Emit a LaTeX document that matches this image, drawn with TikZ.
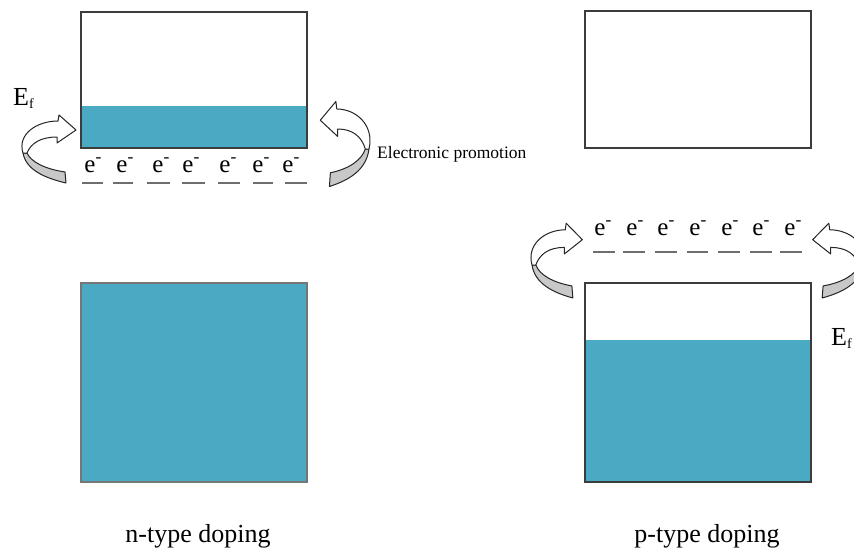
\documentclass[tikz,border=0pt]{standalone}
\usepackage{fontspec}
\setmainfont{Liberation Serif}
\definecolor{bandfill}{HTML}{4AAAC4}
\definecolor{boxline}{HTML}{3C3C3C}
\definecolor{dashgray}{HTML}{6E6E6E}
\definecolor{ribbon}{HTML}{C8C8C8}
\tikzset{
  boxedge/.style={draw=boxline, line width=1.4pt},
  band/.style={fill=bandfill},
  levdash/.style={draw=dashgray, line width=2.6pt},
  elec/.style={inner sep=0pt, anchor=base, font=\fontsize{25}{25}\selectfont},
  lbl/.style={inner sep=0pt, anchor=base, font=\fontsize{26}{26}\selectfont},
  eflbl/.style={inner sep=0pt, anchor=base west, font=\fontsize{26}{26}\selectfont},
  curlarrow/.pic={
    \path[draw=black!85, line width=1pt, fill=ribbon, line join=round]
      (0,0) .. controls (3,17) and (22,25) .. (43,30) -- (42,19)
      .. controls (22,16) and (8,9) .. (4,0) -- cycle;
    \path[draw=black!85, line width=1pt, fill=white, line join=round]
      (0,0) .. controls (-6,-19) and (14,-32) .. (35,-32) -- (36,-38) -- (53,-23)
      -- (34,-10) -- (34,-16) .. controls (18,-16) and (8,-10) .. (4,0) -- cycle;
  }
}
\newcommand{\elsym}{e\rlap{\textsuperscript{-}}}
\newcommand{\eflabel}{E\raisebox{-3pt}{\fontsize{14}{14}\selectfont f}}
\begin{document}
\begin{tikzpicture}[x=1pt, y=-1pt]
\path[use as bounding box] (0,0) rectangle (854,549);
\clip (0,0) rectangle (854,549);
\fill[white] (0,0) rectangle (854,549);

% n-type boxes
\fill[band] (81,106) rectangle (307,148);
\draw[boxedge] (81,12) rectangle (307,148);
\fill[band] (81,283) rectangle (307,482);
\draw[boxedge, draw=boxline!70] (81,283) rectangle (307,482);

% p-type boxes
\draw[boxedge] (585,11) rectangle (811,148);
\fill[band] (585,340) rectangle (811,482);
\draw[boxedge] (585,283) rectangle (811,482);

% n-type electrons and level
\foreach \ex [count=\i] in {90,122,158,188,225,258,288}
  \node[elec] (en\i) at (\ex,172) {\elsym};
\foreach \a/\b in {82/103,113/133,147/170,182/205,218/240,253/273,285/307}
  \draw[levdash] (\a,183) -- (\b,183);

% p-type electrons and level
\foreach \ex [count=\i] in {600,632,663,695,727,758,790}
  \node[elec] (ep\i) at (\ex,235) {\elsym};
\foreach \a/\b in {593/615,623/645,655/677,687/708,718/740,750/772,780/802}
  \draw[levdash] (\a,252) -- (\b,252);

% curled arrows
\pic at (23,153) {curlarrow};
\pic[xscale=-0.92, yscale=1.25] at (369,149) {curlarrow};
\pic[xscale=0.95, yscale=1.1] at (532,265) {curlarrow};
\pic[xscale=-0.95, yscale=1.1] at (863,265) {curlarrow};

% labels
\node[eflbl] (efn) at (13,105) {\eflabel};
\node[eflbl] (efp) at (831,345) {\eflabel};
\node[inner sep=0pt, anchor=base west, font=\fontsize{17.5}{17.5}\selectfont] (promo) at (377,158) {Electronic promotion};
\node[lbl] (ntype) at (198,542) {n-type doping};
\node[lbl] (ptype) at (707,542) {p-type doping};
\end{tikzpicture}
\end{document}
